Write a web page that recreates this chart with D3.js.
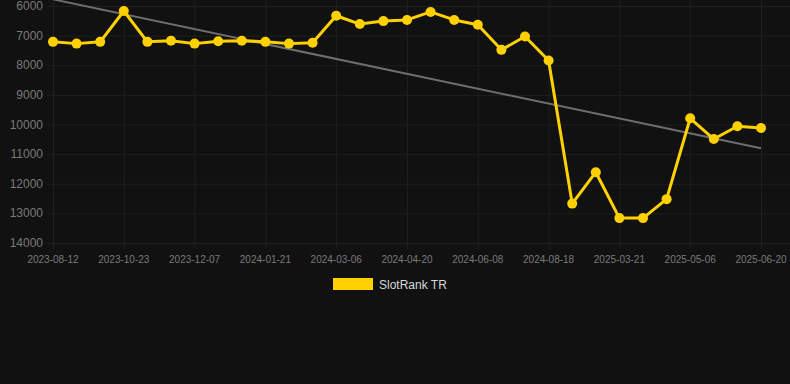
<!DOCTYPE html>
<html>
<head>
<meta charset="utf-8">
<script src="https://cdn.jsdelivr.net/npm/d3@7"></script>
<style>
  html, body { margin: 0; padding: 0; background: #111111; }
  svg { display: block; font-family: "Liberation Sans", Arial, sans-serif; }
</style>
</head>
<body>
<svg id="chart" width="790" height="384"></svg>
<script>
// values, one per week-ish sample
const rankValues = [
  7210, 7270, 7210, 6170, 7210, 7170, 7270, 7190, 7170, 7210, 7270,
  7240, 6330, 6610, 6510, 6470, 6200, 6470, 6630, 7480, 7030, 7840,
  12670, 11610, 13160, 13160, 12520, 9790, 10490, 10060, 10120
];
// labels shown under every third point
const tickLabels = [
  "2023-08-12", "2023-10-23", "2023-12-07", "2024-01-21", "2024-03-06",
  "2024-04-20", "2024-06-08", "2024-08-18", "2025-03-21", "2025-05-06", "2025-06-20"
];
const yTicks = [6000, 7000, 8000, 9000, 10000, 11000, 12000, 13000, 14000];
const trendEnds = [5775, 10805];
const seriesName = "SlotRank TR";

const yellow = "#ffd100";
const gridColor = "#1f1f1f";
const labelColor = "#7a7a7a";

const svg = d3.select("#chart");
const plotLeft = 53, plotRight = 761, plotTop = 6, plotBottom = 243;

const x = d3.scalePoint().domain(d3.range(rankValues.length)).range([plotLeft, plotRight]);
const y = d3.scaleLinear().domain([6000, 14000]).range([plotTop, plotBottom]);

const tickIdx = tickLabels.map((d, i) => i * 3);

// horizontal grid
svg.append("g")
  .selectAll("line")
  .data(yTicks)
  .enter()
  .append("line")
  .attr("x1", 47)
  .attr("x2", 790)
  .attr("y1", (d) => y(d) + 0.5)
  .attr("y2", (d) => y(d) + 0.5)
  .attr("stroke", gridColor);

// vertical grid + small ticks below the axis
svg.append("g")
  .selectAll("line")
  .data(tickIdx)
  .enter()
  .append("line")
  .attr("x1", (d) => x(d) + 0.5)
  .attr("x2", (d) => x(d) + 0.5)
  .attr("y1", plotTop - 6)
  .attr("y2", plotBottom + 6)
  .attr("stroke", gridColor);

// y labels
svg.append("g")
  .selectAll("text")
  .data(yTicks)
  .enter()
  .append("text")
  .attr("x", 43)
  .attr("y", (d) => y(d) + 4)
  .attr("text-anchor", "end")
  .attr("font-size", 12)
  .attr("fill", labelColor)
  .text((d) => d);

// x labels
svg.append("g")
  .selectAll("text")
  .data(tickIdx)
  .enter()
  .append("text")
  .attr("x", (d) => x(d))
  .attr("y", 263)
  .attr("text-anchor", "middle")
  .attr("font-size", 10)
  .attr("fill", labelColor)
  .text((d, i) => tickLabels[i]);

// trend line
svg.append("line")
  .attr("x1", x(0))
  .attr("x2", x(rankValues.length - 1))
  .attr("y1", y(trendEnds[0]))
  .attr("y2", y(trendEnds[1]))
  .attr("stroke", "#6e6e6e")
  .attr("stroke-width", 2);

// series line
const line = d3.line()
  .x((d, i) => x(i))
  .y((d) => y(d));

svg.append("path")
  .datum(rankValues)
  .attr("d", line)
  .attr("fill", "none")
  .attr("stroke", yellow)
  .attr("stroke-width", 3)
  .attr("stroke-linejoin", "round");

svg.append("g")
  .selectAll("circle")
  .data(rankValues)
  .enter()
  .append("circle")
  .attr("cx", (d, i) => x(i))
  .attr("cy", (d) => y(d))
  .attr("r", 5)
  .attr("fill", yellow);

// legend
svg.append("rect")
  .attr("x", 333)
  .attr("y", 278)
  .attr("width", 40)
  .attr("height", 12)
  .attr("fill", yellow);

svg.append("text")
  .attr("x", 379)
  .attr("y", 288.5)
  .attr("font-size", 12)
  .attr("fill", "#d8d8d8")
  .text(seriesName);
</script>
</body>
</html>
